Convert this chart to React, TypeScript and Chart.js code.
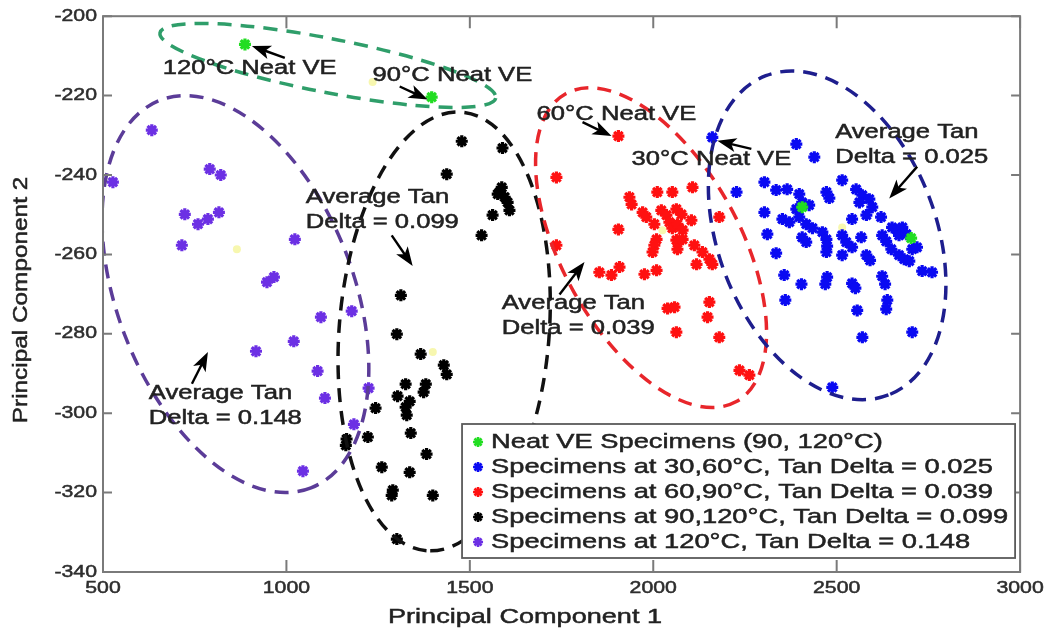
import React, { useEffect, useRef } from 'react';
import { Chart, registerables, LinearScale } from 'chart.js';

Chart.register(...registerables);

// ---------------- data ----------------
const X_TICKS = [500, 1000, 1500, 2000, 2500, 3000];
const Y_TICKS = [-340, -320, -300, -280, -260, -240, -220, -200];

const LEGEND_LABELS = [
  'Neat VE Specimens (90, 120°C)',
  'Specimens at 30,60°C, Tan Delta = 0.025',
  'Specimens at 60,90°C, Tan Delta = 0.039',
  'Specimens at 90,120°C, Tan Delta = 0.099',
  'Specimens at 120°C, Tan Delta = 0.148',
];

const NEAT_VE = [[887, -207.1], [1396, -220.4], [2406, -248.1], [2703, -255.9]];

const CENTROIDS = [[865, -258.7], [1399, -284.6], [2025, -253.9], [2515, -253.2], [1235, -216.6]];

const TD_025 = [
  [2161, -230.5], [2390, -232.2], [2439, -235.5], [2303, -241.8], [2335, -243.8], [2365, -243.6],
  [2227, -244.3], [2398, -244.8], [2406, -246.9], [2425, -247.6], [2390, -248.6], [2515, -241.3],
  [2472, -244.3], [2480, -245.8], [2553, -243.6], [2570, -245.1], [2562, -246.9], [2589, -246.1],
  [2597, -248.1], [2303, -249.4], [2352, -251.1], [2371, -251.9], [2398, -250.6], [2417, -252.4],
  [2434, -253.4], [2542, -251.1], [2581, -250.1], [2621, -250.6], [2311, -254.9], [2406, -255.7],
  [2417, -256.9], [2461, -254.4], [2472, -256.2], [2474, -257.9], [2515, -255.2], [2526, -256.9],
  [2567, -255.7], [2624, -255.2], [2635, -256.7], [2651, -253.2], [2665, -253.9], [2679, -253.2],
  [2670, -255.2], [2690, -254.9], [2706, -258.7], [2719, -258.2], [2335, -259.7], [2542, -258.2],
  [2515, -260.2], [2472, -259.4], [2581, -260.2], [2591, -261.5], [2670, -260.2], [2684, -261.2],
  [2698, -261.7], [2733, -264.2], [2760, -264.5], [2357, -265.2], [2404, -267.5], [2474, -265.7],
  [2469, -267.5], [2542, -267.3], [2551, -268.5], [2624, -265.5], [2632, -267.5], [2360, -271.5],
  [2556, -274.1], [2638, -271.5], [2635, -273.8], [2570, -280.9], [2706, -279.6], [2488, -293.5],
  [2649, -258.7],
];

const TD_039 = [
  [1905, -230.2], [1736, -240.6], [2107, -243.1], [1935, -245.6], [1941, -247.4], [2011, -244.3],
  [2052, -244.3], [1971, -249.4], [1981, -250.6], [2022, -248.9], [2036, -250.1], [2063, -248.6],
  [2077, -249.9], [2104, -251.4], [2003, -252.4], [2044, -251.9], [2052, -253.4], [2066, -252.4],
  [2080, -253.9], [2180, -250.6], [1905, -253.7], [2009, -256.2], [2003, -257.7], [1998, -259.4],
  [2063, -256.4], [2066, -258.7], [2080, -256.2], [2112, -257.7], [2134, -259.4], [2153, -261.2],
  [2118, -262.5], [2161, -262.5], [1736, -257.7], [1853, -264.5], [1886, -265.2], [1908, -263.2],
  [1976, -265.0], [2009, -264.0], [2039, -273.6], [2058, -273.3], [2153, -272.0], [2148, -275.8],
  [2063, -279.6], [2180, -280.9], [2235, -289.2], [2262, -290.4],
];

const TD_099 = [
  [1478, -231.5], [1589, -233.2], [1437, -239.8], [1587, -243.1], [1581, -244.3], [1595, -245.6],
  [1603, -246.9], [1576, -244.8], [1608, -248.9], [1562, -250.1], [1532, -255.2], [1312, -270.3],
  [1301, -280.1], [1366, -285.1], [1429, -287.9], [1437, -290.2], [1325, -292.7], [1303, -295.7],
  [1336, -297.0], [1380, -292.7], [1374, -294.7], [1325, -298.5], [1328, -300.5], [1243, -298.7],
  [1339, -305.0], [1164, -306.5], [1162, -308.1], [1222, -306.0], [1382, -310.3], [1260, -313.6],
  [1336, -314.9], [1290, -319.4], [1287, -320.7], [1399, -320.7], [1301, -331.7],
];

const TD_148 = [
  [633, -228.7], [527, -241.8], [791, -238.5], [821, -240.0], [723, -249.9], [759, -252.4],
  [786, -251.1], [816, -249.4], [715, -257.7], [1023, -256.2], [947, -267.0], [966, -265.7],
  [1094, -275.8], [1178, -274.3], [1020, -281.9], [917, -284.4], [1085, -289.4], [1105, -296.2],
  [1224, -293.7], [1184, -302.8], [1045, -314.6],
];

// annotation text anchors (data coords, left / middle of first line)
const NOTE_TEXTS = [
  { lines: ['120°C Neat VE'], x: 663, y: -213.2 },
  { lines: ['90°C Neat VE'], x: 1235, y: -215.0 },
  { lines: ['60°C Neat VE'], x: 1682, y: -224.7 },
  { lines: ['30°C Neat VE'], x: 1941, y: -236.2 },
  { lines: ['Average Tan', 'Delta = 0.025'], x: 2496, y: -229.2 },
  { lines: ['Average Tan', 'Delta = 0.099'], x: 1053, y: -245.7 },
  { lines: ['Average Tan', 'Delta = 0.039'], x: 1587, y: -272.4 },
  { lines: ['Average Tan', 'Delta = 0.148'], x: 625, y: -295.1 },
];

// arrows: tail x, tail y, head x, head y (data coords)
const NOTE_ARROWS = [
  [995.6, -210.5, 905.8, -207.5],
  [1308.8, -217.7, 1385.1, -221.0],
  [1807.2, -226.7, 1886.2, -230.2],
  [2267.4, -233.4, 2174.8, -231.4],
  [2719.5, -237.9, 2643.2, -245.9],
  [1287.0, -255.2, 1344.2, -262.9],
  [1744.5, -270.1, 1812.6, -261.9],
  [742.4, -292.6, 786.0, -284.6],
];

// cluster ellipses: centre in data coords, semi-axes in px, rotation in degrees
const CLUSTER_ELLIPSES = [
  { cx: 1113, cy: -212.4, a: 171, b: 27, angle: 11, color: '#2f9e6a' },
  { cx: 861, cy: -270.0, a: 208, b: 118, angle: 68.7, color: '#5b3c98' },
  { cx: 1430, cy: -279.4, a: 220, b: 105, angle: 94.6, color: '#111111' },
  { cx: 1994, cy: -258.3, a: 176, b: 89, angle: 61, color: '#e8262b' },
  { cx: 2474, cy: -255.2, a: 171, b: 109, angle: 69, color: '#1e1e8e' },
];

// ---------------- styling ----------------
const FONT = '"Liberation Sans", Arial, Helvetica, sans-serif';
const TEXT_COLOR = '#222222';
const TICK_STRETCH = 1.25;

class StretchedLinear extends (LinearScale as any) {
  static id = 'stretchedLinear';
  drawLabels(chartArea: any) {
    const self: any = this;
    const ctx = self.ctx;
    const items = self.getLabelItems(chartArea);
    for (const item of items) {
      const o = item.options;
      ctx.save();
      ctx.translate(o.translation[0], o.translation[1]);
      if (o.rotation) ctx.rotate(o.rotation);
      ctx.scale(TICK_STRETCH, 1);
      ctx.font = item.font.string;
      ctx.fillStyle = o.color;
      ctx.strokeStyle = o.color;
      ctx.lineWidth = 0.5;
      ctx.textAlign = o.textAlign;
      ctx.textBaseline = o.textBaseline;
      ctx.fillText(String(item.label), 0, item.textOffset);
      ctx.strokeText(String(item.label), 0, item.textOffset);
      ctx.restore();
    }
  }
}
Chart.register(StretchedLinear as any);

function stretchText(
  ctx: CanvasRenderingContext2D, text: string, x: number, y: number,
  size: number, sx: number, align: CanvasTextAlign = 'left', rotate = 0, color = TEXT_COLOR,
) {
  ctx.save();
  ctx.translate(x, y);
  if (rotate) ctx.rotate(rotate);
  ctx.scale(sx, 1);
  ctx.font = `${size}px ${FONT}`;
  ctx.textAlign = align;
  ctx.textBaseline = 'middle';
  ctx.fillStyle = color;
  ctx.strokeStyle = color;
  ctx.lineWidth = 0.5;
  ctx.fillText(text, 0, 0);
  ctx.strokeText(text, 0, 0);
  ctx.restore();
}

function drawArrow(ctx: CanvasRenderingContext2D, x1: number, y1: number, x2: number, y2: number) {
  const ang = Math.atan2(y2 - y1, x2 - x1);
  const c = Math.cos(ang), s = Math.sin(ang);
  const L = 19, W = 7;
  ctx.save();
  ctx.strokeStyle = '#000';
  ctx.fillStyle = '#000';
  ctx.lineWidth = 2.4;
  ctx.beginPath();
  ctx.moveTo(x1, y1);
  ctx.lineTo(x2 - c * L * 0.7, y2 - s * L * 0.7);
  ctx.stroke();
  ctx.beginPath();
  ctx.moveTo(x2, y2);
  ctx.lineTo(x2 - c * L - s * W, y2 - s * L + c * W);
  ctx.lineTo(x2 - c * L * 0.75, y2 - s * L * 0.75);
  ctx.lineTo(x2 - c * L + s * W, y2 - s * L - c * W);
  ctx.closePath();
  ctx.fill();
  ctx.restore();
}

function drawStar(ctx: CanvasRenderingContext2D, x: number, y: number, r: number, color: string) {
  ctx.save();
  ctx.strokeStyle = color;
  ctx.lineWidth = 2.6;
  ctx.beginPath();
  for (let k = 0; k < 4; k++) {
    const a = (k * Math.PI) / 4;
    ctx.moveTo(x - Math.cos(a) * r, y - Math.sin(a) * r);
    ctx.lineTo(x + Math.cos(a) * r, y + Math.sin(a) * r);
  }
  ctx.stroke();
  ctx.restore();
}

const decorPlugin = {
  id: 'decor',
  afterDatasetsDraw(chart: any) {
    const { ctx, chartArea: ca, scales } = chart;
    const xs = scales.x, ys = scales.y;

    // ellipses
    ctx.save();
    ctx.beginPath();
    ctx.rect(ca.left, ca.top, ca.right - ca.left, ca.bottom - ca.top);
    ctx.clip();
    for (const e of CLUSTER_ELLIPSES) {
      ctx.beginPath();
      ctx.ellipse(xs.getPixelForValue(e.cx), ys.getPixelForValue(e.cy), e.a, e.b, (e.angle * Math.PI) / 180, 0, Math.PI * 2);
      ctx.setLineDash([14, 9]);
      ctx.lineWidth = 3.5;
      ctx.strokeStyle = e.color;
      ctx.stroke();
    }
    ctx.restore();

    // frame and inward ticks
    ctx.save();
    ctx.strokeStyle = '#7a7a7a';
    ctx.lineWidth = 2;
    ctx.strokeRect(ca.left, ca.top, ca.right - ca.left, ca.bottom - ca.top);
    ctx.beginPath();
    for (const v of X_TICKS) {
      const px = xs.getPixelForValue(v);
      ctx.moveTo(px, ca.bottom); ctx.lineTo(px, ca.bottom - 12);
      ctx.moveTo(px, ca.top); ctx.lineTo(px, ca.top + 12);
    }
    for (const v of Y_TICKS) {
      const py = ys.getPixelForValue(v);
      ctx.moveTo(ca.left, py); ctx.lineTo(ca.left + 9, py);
      ctx.moveTo(ca.right, py); ctx.lineTo(ca.right - 9, py);
    }
    ctx.stroke();
    ctx.restore();

    // arrows
    for (const [tx, ty, hx, hy] of NOTE_ARROWS) {
      drawArrow(ctx, xs.getPixelForValue(tx), ys.getPixelForValue(ty), xs.getPixelForValue(hx), ys.getPixelForValue(hy));
    }

    // annotation texts
    for (const n of NOTE_TEXTS) {
      const px = xs.getPixelForValue(n.x);
      const py = ys.getPixelForValue(n.y);
      n.lines.forEach((line, i) => stretchText(ctx, line, px, py + i * 25, 20, 1.28));
    }

    // legend
    const LS = 21, LSX = 1.3;
    const legendItems = chart.data.datasets.filter((d: any) => d.inLegend);
    ctx.save();
    ctx.font = `${LS}px ${FONT}`;
    const maxW = Math.max(...legendItems.map((d: any) => ctx.measureText(d.label).width)) * LSX;
    ctx.restore();
    const boxW = 30 + maxW + 6;
    const boxH = 18 + (legendItems.length - 1) * 25 + 16;
    const right = ca.right - 5;
    const bottom = ca.bottom - 14;
    const left = right - boxW;
    const top = bottom - boxH;
    ctx.save();
    ctx.fillStyle = '#ffffff';
    ctx.fillRect(left, top, boxW, boxH);
    ctx.strokeStyle = '#5a5a5a';
    ctx.lineWidth = 1.8;
    ctx.strokeRect(left, top, boxW, boxH);
    ctx.restore();
    legendItems.forEach((d: any, i: number) => {
      const cy = top + 18 + i * 25;
      drawStar(ctx, left + 16, cy, 5, d.borderColor);
      stretchText(ctx, d.label, left + 29, cy, LS, LSX);
    });

    // axis titles
    stretchText(ctx, 'Principal Component 1', 525, 617, 21, 1.29, 'center');
    stretchText(ctx, 'Principal Component 2', 21, 300, 21, 1.16, 'center', -Math.PI / 2);
  },
};

const toPts = (arr: number[][]) => arr.map(([x, y]) => ({ x, y }));

export default function App() {
  const ref = useRef<HTMLCanvasElement | null>(null);

  useEffect(() => {
    if (!ref.current) return;
    const mk = (label: string, data: number[][], color: string) => ({
      label,
      data: toPts(data),
      borderColor: color,
      backgroundColor: color,
      pointStyle: 'star',
      pointRadius: 6,
      pointBorderWidth: 3.2,
      pointHoverRadius: 6,
      showLine: false,
      inLegend: true,
    });
    const chart = new Chart(ref.current, {
      type: 'scatter',
      data: {
        datasets: [
          mk(LEGEND_LABELS[0], NEAT_VE, '#22dd22'),
          mk(LEGEND_LABELS[1], TD_025, '#0a0af2'),
          mk(LEGEND_LABELS[2], TD_039, '#ff1111'),
          mk(LEGEND_LABELS[3], TD_099, '#000000'),
          mk(LEGEND_LABELS[4], TD_148, '#6c30e4'),
          {
            label: 'centroids',
            data: toPts(CENTROIDS),
            borderColor: 'rgba(240,240,110,0.55)',
            backgroundColor: 'rgba(240,240,110,0.55)',
            pointStyle: 'circle',
            pointRadius: 4,
            pointBorderWidth: 0,
            showLine: false,
            inLegend: false,
          } as any,
        ],
      } as any,
      options: {
        animation: false,
        responsive: false,
        devicePixelRatio: 1,
        layout: { padding: { left: 0, top: 11, right: 24, bottom: 0 } },
        plugins: { legend: { display: false }, tooltip: { enabled: false }, title: { display: false } },
        scales: {
          x: {
            type: 'stretchedLinear',
            min: 500,
            max: 3000,
            afterBuildTicks: (s: any) => { s.ticks = X_TICKS.map((v) => ({ value: v })); },
            afterFit: (s: any) => { s.height = 64; },
            ticks: {
              callback: (v: any) => String(v),
              font: { family: FONT, size: 17 },
              color: '#2e2e2e',
              padding: 6,
              maxRotation: 0,
              autoSkip: false,
            },
            grid: { display: false, drawTicks: false },
            border: { display: false },
          },
          y: {
            type: 'stretchedLinear',
            min: -340,
            max: -200,
            afterBuildTicks: (s: any) => { s.ticks = Y_TICKS.map((v) => ({ value: v })); },
            afterFit: (s: any) => { s.width = 103; },
            ticks: {
              callback: (v: any) => String(v),
              font: { family: FONT, size: 17 },
              color: '#2e2e2e',
              padding: 6,
              autoSkip: false,
            },
            grid: { display: false, drawTicks: false },
            border: { display: false },
          },
        } as any,
      },
      plugins: [decorPlugin],
    } as any);
    return () => chart.destroy();
  }, []);

  return (
    <div style={{ position: 'absolute', left: 0, top: 0, width: 1045, height: 636, background: '#fff' }}>
      <canvas ref={ref} width={1045} height={636} style={{ width: 1045, height: 636, display: 'block' }} />
    </div>
  );
}
